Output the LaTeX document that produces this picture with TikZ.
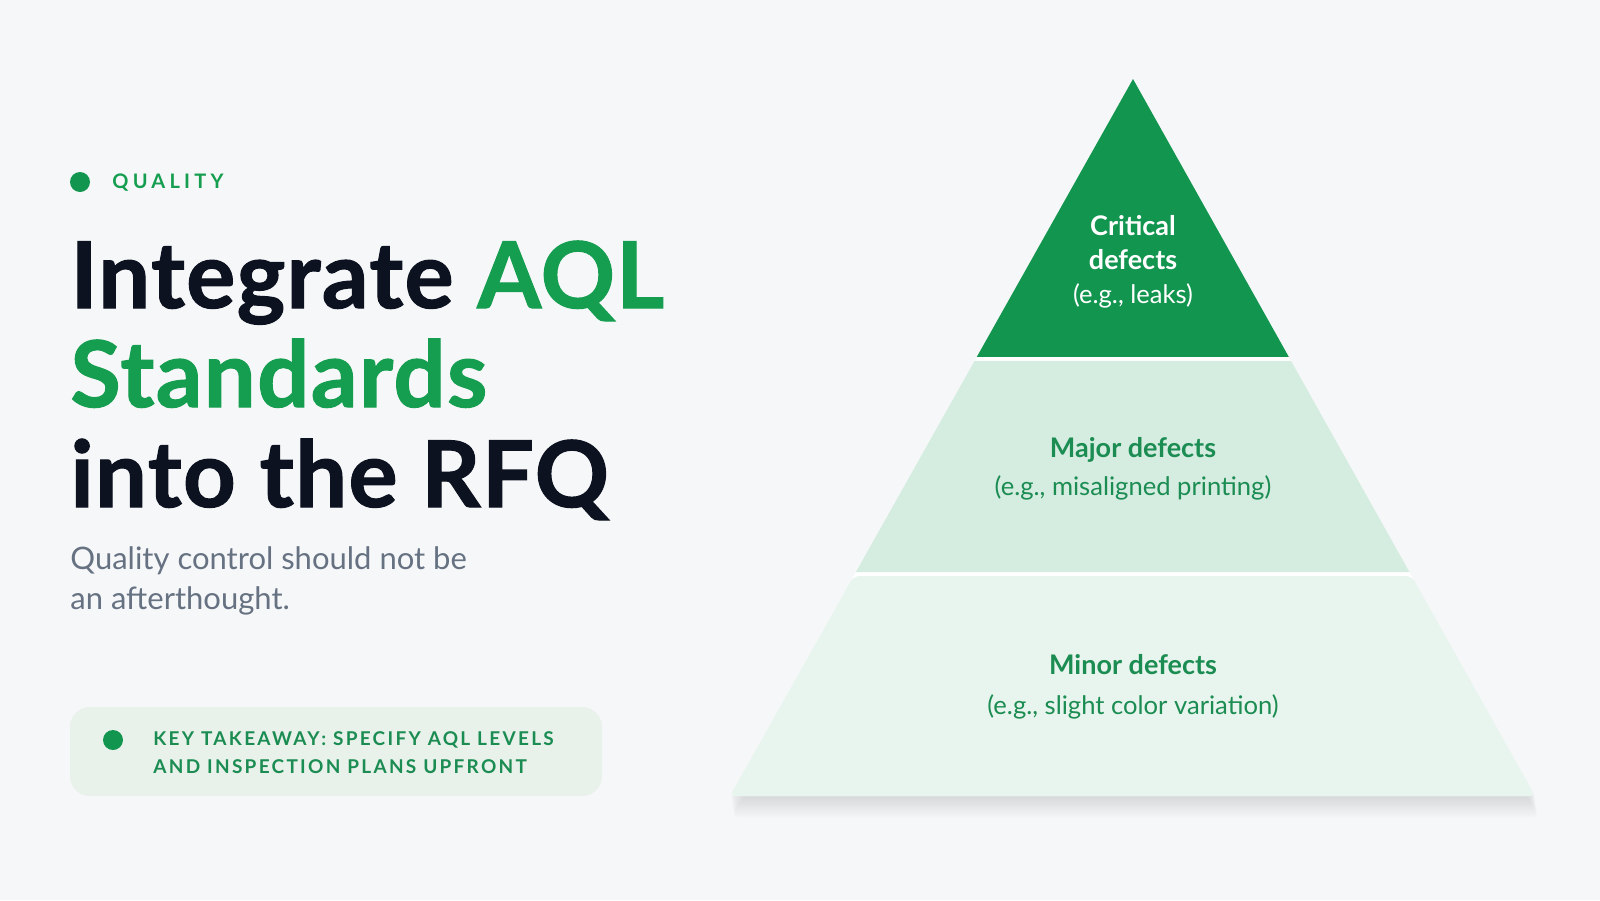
\documentclass[tikz,border=0pt]{standalone}
\usepackage{fontspec}
\setmainfont{Lato}
\usetikzlibrary{calc}
\definecolor{bg}{HTML}{F6F7F9}
\definecolor{ink}{HTML}{0D1220}
\definecolor{brand}{HTML}{169E50}
\definecolor{crit}{HTML}{12954F}
\definecolor{midband}{HTML}{D5ECE0}
\definecolor{lowband}{HTML}{E8F5EE}
\definecolor{txtgreen}{HTML}{1B8C52}
\definecolor{subgray}{HTML}{667282}
\definecolor{boxfill}{HTML}{E8F2EB}
\tikzset{
  titleline/.style={anchor=base west, inner sep=0pt, font=\fontsize{46}{54}\selectfont\bfseries\addfontfeature{FakeBold=1.2,LetterSpace=1.5}},
  subline/.style={anchor=base west, inner sep=0pt, text=subgray, font=\fontsize{15.5}{19}\selectfont},
  tagtext/.style={anchor=west, inner sep=0pt, text=brand, font=\fontsize{10}{12}\selectfont\bfseries\addfontfeature{LetterSpace=21}},
  taketext/.style={anchor=west, inner sep=0pt, text=txtgreen, font=\fontsize{9.5}{13.5}\selectfont\bfseries\addfontfeature{LetterSpace=12}, align=left},
  bandhead/.style={inner sep=0pt, text=txtgreen, font=\fontsize{13.5}{16}\selectfont\bfseries},
  bandsub/.style={inner sep=0pt, text=txtgreen, font=\fontsize{12.8}{15}\selectfont},
  dotmark/.style={circle, fill=crit, inner sep=0pt, minimum size=10pt},
}
\begin{document}
\begin{tikzpicture}[x=0.5pt,y=-0.5pt]
\useasboundingbox (0,0) rectangle (1600,900);
\fill[bg] (0,0) rectangle (1600,900);

% ---- left column ----
\node[dotmark] (tagdot) at (80,182) {};
\node[tagtext] (tag) at (112,183) {QUALITY};

\node[titleline, text=ink] (t1) at (70,308) {Integrate \textcolor{brand}{AQL}};
\node[titleline, text=brand] (t2) at (70,407) {Standards};
\node[titleline, text=ink] (t3) at (70,507) {into the RFQ};

\node[subline] (s1) at (70,569) {Quality control should not be};
\node[subline] (s2) at (70,609) {an afterthought.};

\fill[boxfill, rounded corners=10pt] (70,707) rectangle (602,796);
\node[dotmark] (kdot) at (113,740) {};
\node[taketext] (k1) at (153,740) {KEY TAKEAWAY: SPECIFY AQL LEVELS};
\node[taketext] (k2) at (153,767) {AND INSPECTION PLANS UPFRONT};

% ---- pyramid ----
\coordinate (apex) at (1133,79);
\coordinate (bl) at (730,796);
\coordinate (br) at (1535,796);

% soft shadow below the pyramid
\foreach \i in {1,...,10}{
  \fill[black, opacity=0.012, rounded corners=4pt]
    ([shift={(0.3*\i,2.2*\i)}]apex) -- ([shift={(0.3*\i+2,2.2*\i)}]br) -- ([shift={(0.3*\i-2,2.2*\i)}]bl) -- cycle;
}
\fill[white, rounded corners=3pt] (apex) -- (br) -- (bl) -- cycle;

% critical
\fill[crit] (apex) -- ($(apex)!0.3877!(br)$) -- ($(apex)!0.3877!(bl)$) -- cycle;
% major
\fill[midband] ($(apex)!0.3933!(bl)$) -- ($(apex)!0.3933!(br)$) -- ($(apex)!0.6876!(br)$) -- ($(apex)!0.6876!(bl)$) -- cycle;
% minor
\fill[lowband, rounded corners=3pt] ($(apex)!0.6932!(bl)$) -- ($(apex)!0.6932!(br)$) -- (br) -- (bl) -- cycle;

\node[inner sep=0pt, text=white, align=center, font=\fontsize{13.5}{17}\selectfont\bfseries] (crittext) at (1133,262)
  {Critical\\defects\\\fontsize{12.8}{17}\selectfont\mdseries(e.g., leaks)};

\node[bandhead] (majh) at (1133,450) {Major defects};
\node[bandsub] (majs) at (1133,488) {(e.g., misaligned printing)};

\node[bandhead] (minh) at (1133,665) {Minor defects};
\node[bandsub] (mins) at (1133,707) {(e.g., slight color variation)};
\end{tikzpicture}
\end{document}
